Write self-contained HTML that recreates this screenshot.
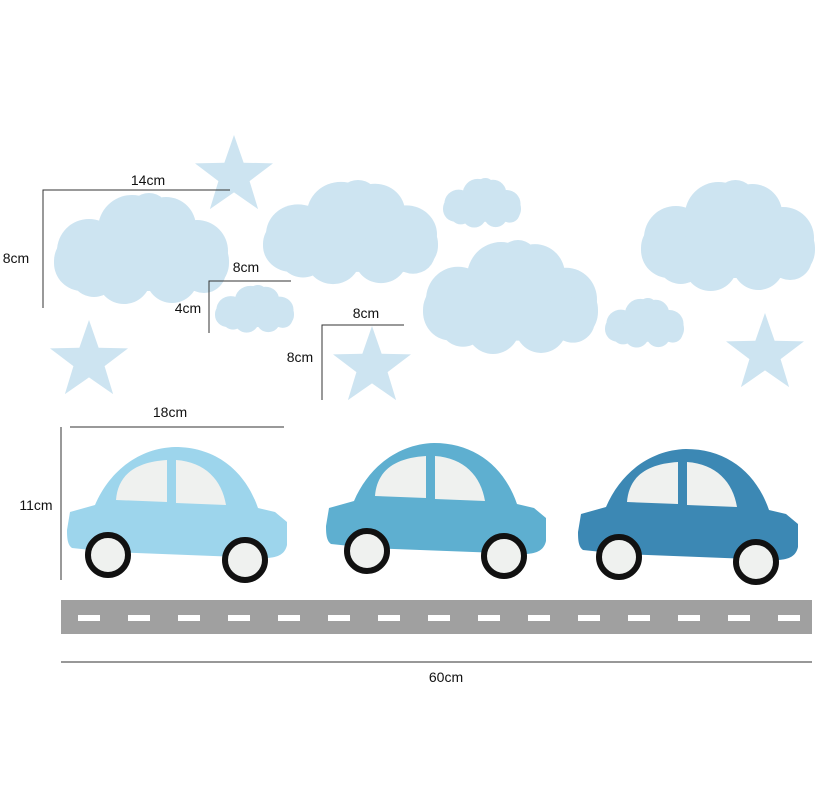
<!DOCTYPE html><html><head><style>body{margin:0;background:#fff}svg{display:block}</style></head><body>
<svg width="837" height="801" viewBox="0 0 837 801" xmlns="http://www.w3.org/2000/svg" font-family="Liberation Sans, sans-serif" font-size="14">
<defs>
<symbol id="cl" viewBox="0 0 175 112" preserveAspectRatio="none">
<g fill="#cde4f1">
<rect x="0" y="40" width="175" height="58" rx="28"/>
<circle cx="35" cy="58" r="32"/><circle cx="78" cy="36" r="34"/><circle cx="112" cy="34" r="30"/>
<circle cx="143" cy="58" r="31"/><circle cx="70" cy="84" r="27"/><circle cx="118" cy="84" r="26"/>
<circle cx="95" cy="20" r="20"/><circle cx="40" cy="80" r="24"/><circle cx="150" cy="78" r="22"/>
</g></symbol>
<symbol id="st" viewBox="-1 -1 2 2"><polygon fill="#cde4f1" points="0,-1 0.235,-0.324 0.951,-0.309 0.38,0.124 0.588,0.809 0,0.4 -0.588,0.809 -0.38,0.124 -0.951,-0.309 -0.235,-0.324"/></symbol>
<g id="car">
<path d="M70,512 L95,505 C110,470 140,448 175,447 C215,447 245,470 258,508 L275,512 L287,522 L287,545 C285,555 276,558 265,558 L110,552 L72,548 C68,545 67,540 67,530 Z"/>
<path fill="#eff1ef" d="M116,500 C118,475 135,462 167,460 L167,502 Z M176,460 C205,462 222,480 226,505 L176,503 Z"/>
<circle cx="108" cy="555" r="20" fill="#eff1ef" stroke="#111" stroke-width="6"/>
<circle cx="245" cy="560" r="20" fill="#eff1ef" stroke="#111" stroke-width="6"/>
</g>
</defs>
<use href="#cl" x="54" y="193" width="175" height="112"/>
<use href="#cl" x="215" y="285" width="79" height="48"/>
<use href="#cl" x="263" y="180" width="175" height="105"/>
<use href="#cl" x="443" y="178" width="78" height="50"/>
<use href="#cl" x="423" y="240" width="175" height="115"/>
<use href="#cl" x="605" y="298" width="79" height="50"/>
<use href="#cl" x="641" y="180" width="174" height="112"/>
<use href="#st" x="193" y="135" width="82" height="82"/>
<use href="#st" x="48" y="320" width="82" height="82"/>
<use href="#st" x="331" y="326" width="82" height="82"/>
<use href="#st" x="724" y="313" width="82" height="82"/>
<use href="#car" fill="#9dd5ec"/>
<use href="#car" fill="#5eafd0" x="259" y="-4"/>
<use href="#car" fill="#3c88b4" x="511" y="2"/>
<rect x="61" y="600" width="751" height="34" fill="#a0a0a0"/>
<g fill="#fff">
<rect x="78" y="615" width="22" height="6"/><rect x="128" y="615" width="22" height="6"/><rect x="178" y="615" width="22" height="6"/><rect x="228" y="615" width="22" height="6"/><rect x="278" y="615" width="22" height="6"/><rect x="328" y="615" width="22" height="6"/><rect x="378" y="615" width="22" height="6"/><rect x="428" y="615" width="22" height="6"/><rect x="478" y="615" width="22" height="6"/><rect x="528" y="615" width="22" height="6"/><rect x="578" y="615" width="22" height="6"/><rect x="628" y="615" width="22" height="6"/><rect x="678" y="615" width="22" height="6"/><rect x="728" y="615" width="22" height="6"/><rect x="778" y="615" width="22" height="6"/>
</g>
<g stroke="#333" stroke-width="1" fill="none">
<path d="M43,308 V190 H230"/><path d="M209,333 V281 H291"/><path d="M322,400 V325 H404"/>
<path d="M70,427 H284"/><path d="M61,427 V580" stroke="#999" stroke-width="2"/><path d="M61,662 H812" stroke="#777" stroke-width="1.5"/>
</g>
<g fill="#111" text-anchor="middle">
<text x="148" y="185">14cm</text><text x="16" y="263">8cm</text><text x="246" y="272">8cm</text><text x="188" y="313">4cm</text>
<text x="366" y="318">8cm</text><text x="300" y="362">8cm</text><text x="170" y="417">18cm</text><text x="36" y="510">11cm</text><text x="446" y="682">60cm</text>
</g>
</svg></body></html>
